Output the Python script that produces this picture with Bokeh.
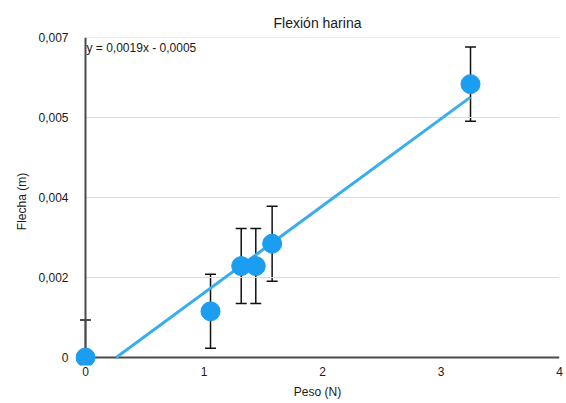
import numpy as np
from bokeh.plotting import figure
from bokeh.models import (ColumnDataSource, Whisker, TeeHead, Label, FixedTicker, Range1d)
from bokeh.embed import file_html
from bokeh.resources import INLINE

# ---- data ----
peso = [0.0, 1.055, 1.314, 1.437, 1.575, 3.249]
flecha = [0.0, 0.00101, 0.00200, 0.00200, 0.00249, 0.00598]
error = [0.00082, 0.00081, 0.00082, 0.00082, 0.00082, 0.00081]
x_ticks = [0, 1, 2, 3, 4]
x_labels = ["0", "1", "2", "3", "4"]
y_ticks = [0, 0.00175, 0.0035, 0.00525, 0.007]
y_labels = ["0", "0,002", "0,004", "0,005", "0,007"]
title_text = "Flexión harina"
x_title = "Peso (N)"
y_title = "Flecha (m)"
equation = "y = 0,0019x - 0,0005"

FONT = "Liberation Sans"
POINT_COLOR = "#1B9DF0"
LINE_COLOR = "#3AADEB"
AXIS_COLOR = "#4a4a4a"
GRID_COLOR = "#dcdcdc"

p = figure(width=566, height=403, output_backend="svg", toolbar_location=None,
           x_range=Range1d(-0.0844, 4.0), y_range=Range1d(-0.000175, 0.007),
           min_border_left=75, min_border_right=7, min_border_top=37, min_border_bottom=38)
p.outline_line_color = None
p.background_fill_color = "white"
p.border_fill_color = "white"

p.title.text = title_text
p.title.align = "center"
p.title.vertical_align = "top"
p.title.text_font = FONT
p.title.text_font_size = "14px"
p.title.text_font_style = "normal"
p.title.text_color = "#1a1a1a"
p.title.standoff = 10

p.xgrid.grid_line_color = None
p.ygrid.grid_line_color = None

# axes
for ax in (p.xaxis[0], p.yaxis[0]):
    ax.axis_line_color = None
    ax.major_tick_line_color = None
    ax.minor_tick_line_color = None
    ax.major_tick_out = 0
    ax.major_tick_in = 0
    ax.major_label_text_font = FONT
    ax.major_label_text_font_size = "12px"
    ax.major_label_text_color = "#1a1a1a"
    ax.axis_label_text_font = FONT
    ax.axis_label_text_font_size = "12px"
    ax.axis_label_text_font_style = "normal"
    ax.axis_label_text_color = "#1a1a1a"

p.xaxis.ticker = FixedTicker(ticks=x_ticks)
p.xaxis.major_label_overrides = dict(zip(x_ticks, x_labels))
p.xaxis.axis_label = x_title
p.xaxis.major_label_standoff = 1
p.xaxis.axis_label_standoff = 6

p.yaxis.ticker = FixedTicker(ticks=y_ticks)
p.yaxis.major_label_overrides = dict(zip(y_ticks, y_labels))
p.yaxis.axis_label = y_title
p.yaxis.major_label_standoff = 7
p.yaxis.axis_label_standoff = 6

# horizontal grid lines from x=0 to x=4
p.segment(x0=[x_ticks[0]] * (len(y_ticks) - 1), x1=[x_ticks[-1]] * (len(y_ticks) - 1),
          y0=y_ticks[1:], y1=y_ticks[1:], line_color=GRID_COLOR, line_width=1.2)

# axis lines
p.segment(x0=[x_ticks[0]], x1=[x_ticks[-1]], y0=[0], y1=[0], line_color=AXIS_COLOR, line_width=2)
p.segment(x0=[0], x1=[0], y0=[0], y1=[y_ticks[-1]], line_color=AXIS_COLOR, line_width=2)

# trend line (least squares)
xa = np.array(peso)
ya = np.array(flecha)
m, b = np.polyfit(xa, ya, 1)
x_start = max(-b / m, 0.0)
x_end = xa.max()
p.line([x_start, x_end], [m * x_start + b, m * x_end + b], line_color=LINE_COLOR, line_width=3)

# error bars
lower = [max(f - e, 0.0) for f, e in zip(flecha, error)]
upper = [f + e for f, e in zip(flecha, error)]
src = ColumnDataSource(data=dict(x=peso, y=flecha, lower=lower, upper=upper))
w = Whisker(source=src, base="x", lower="lower", upper="upper",
            line_color="#111111", line_width=1.5,
            upper_head=TeeHead(size=11, line_color="#111111", line_width=1.5),
            lower_head=TeeHead(size=11, line_color="#111111", line_width=1.5))
p.add_layout(w)

p.scatter("x", "y", source=src, size=19, fill_color=POINT_COLOR, line_color=POINT_COLOR)

p.add_layout(Label(x=0, y=y_ticks[-1], text=equation, x_offset=1, y_offset=-3,
                   text_baseline="top", text_align="left", text_font=FONT,
                   text_font_size="12px", text_color="#1a1a1a"))

open("out.html", "w").write(file_html(p, INLINE))
